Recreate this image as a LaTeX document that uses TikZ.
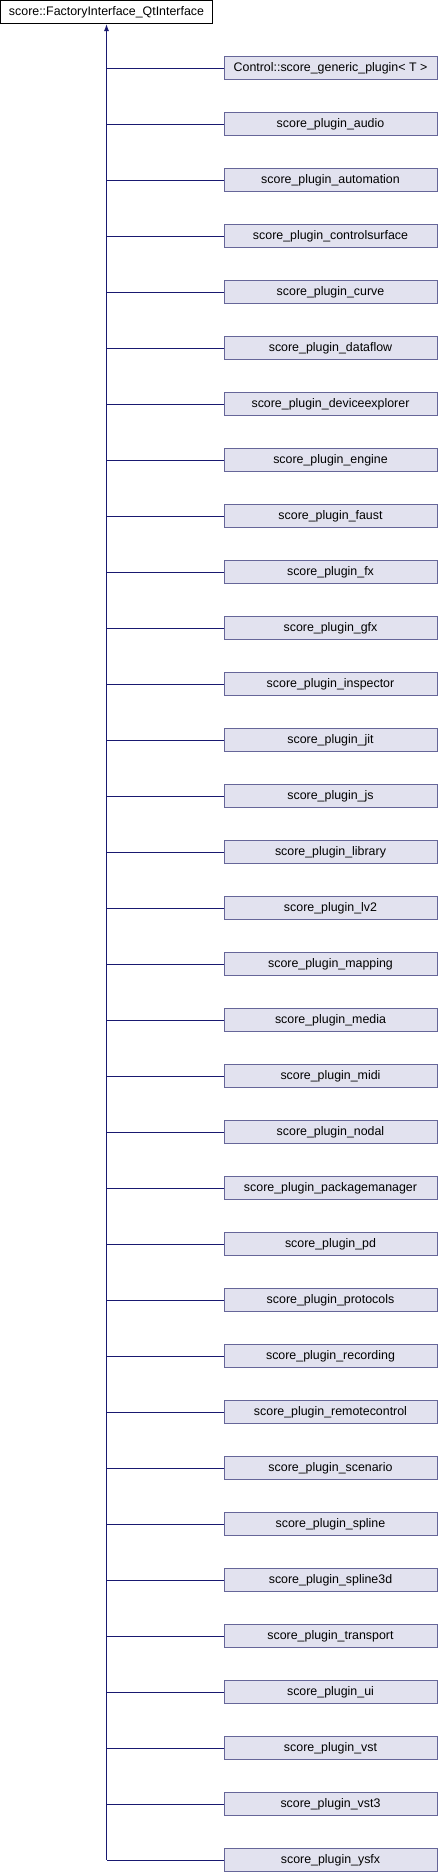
\documentclass[tikz,border=0pt]{standalone}
\usepackage{fontspec}
\setmainfont{Liberation Sans}
\usetikzlibrary{arrows.meta}
\usetikzlibrary{positioning}
\definecolor{edgeblue}{HTML}{191970}
\definecolor{boxfill}{HTML}{E2E2EF}
\definecolor{boxline}{HTML}{666699}

\begin{document}
\begin{tikzpicture}[x=1pt, y=-1pt,
    every node/.style={font=\fontsize{12.4}{14}\selectfont, inner sep=0pt},
    basebox/.style={draw=black, fill=white, line width=1pt, minimum width=212pt, minimum height=23pt},
    childbox/.style={draw=boxline, fill=boxfill, line width=1pt, minimum width=213pt, minimum height=23pt},
    edge/.style={draw=edgeblue, line width=1pt}]
    \useasboundingbox (0,0) rectangle (438,1872);
    \node[basebox] (base) at (106.5,12) {score::FactoryInterface\_QtInterface};
    \foreach \lbl [count=\i] in {Control::score\_generic\_plugin< T >, score\_plugin\_audio,
      score\_plugin\_automation, score\_plugin\_controlsurface, score\_plugin\_curve,
      score\_plugin\_dataflow, score\_plugin\_deviceexplorer, score\_plugin\_engine,
      score\_plugin\_faust, score\_plugin\_fx, score\_plugin\_gfx, score\_plugin\_inspector,
      score\_plugin\_jit, score\_plugin\_js, score\_plugin\_library, score\_plugin\_lv2,
      score\_plugin\_mapping, score\_plugin\_media, score\_plugin\_midi, score\_plugin\_nodal,
      score\_plugin\_packagemanager, score\_plugin\_pd, score\_plugin\_protocols,
      score\_plugin\_recording, score\_plugin\_remotecontrol, score\_plugin\_scenario,
      score\_plugin\_spline, score\_plugin\_spline3d, score\_plugin\_transport, score\_plugin\_ui,
      score\_plugin\_vst, score\_plugin\_vst3, score\_plugin\_ysfx}{
      \node[childbox] (p\i) at (330.5, 68+56*\i-56) {\lbl};
      \draw[edge] (p\i.west) -- (p\i.west -| base.south);
    }
    \draw[edge, -{Latex[length=7pt, width=5pt]}] (p33.west -| base.south) -- (base.south);
  \end{tikzpicture}
\end{document}
